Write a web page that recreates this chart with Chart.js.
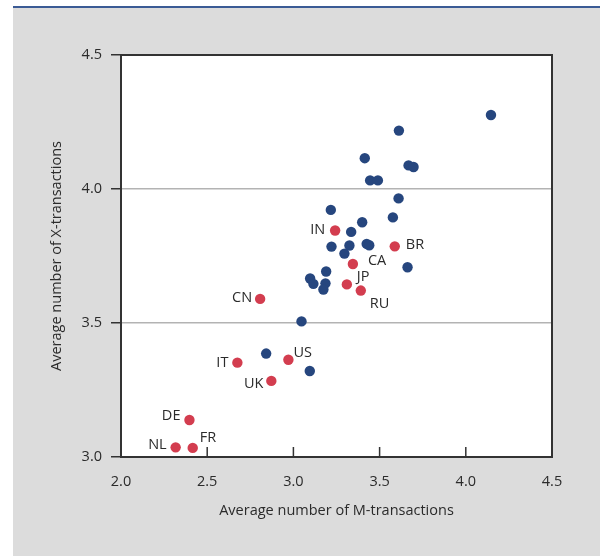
<!DOCTYPE html>
<html>
<head>
<meta charset="utf-8">
<script src="https://cdn.jsdelivr.net/npm/chart.js@4"></script>
<style>
  body { margin: 0; background: #fff; }
  #panel {
    position: absolute; left: 13px; top: 6px; width: 587px; height: 550px;
    background: #dcdcdc; border-top: 2px solid #3b5b95; box-sizing: border-box;
  }
  #wrap { position: absolute; left: 0; top: 0; width: 600px; height: 556px; }
</style>
</head>
<body>
<div id="panel"></div>
<div id="wrap"><canvas id="chart" width="600" height="556"></canvas></div>
<script>
// other countries (blue)
let blueX = [4.146, 3.612, 3.414, 3.668, 3.697, 3.445, 3.490, 3.610, 3.217, 3.577, 3.399, 3.335, 3.221,
  3.325, 3.425, 3.440, 3.296, 3.662, 3.190, 3.097, 3.116, 3.186, 3.174, 3.047, 2.842, 3.095];
let blueY = [4.276, 4.218, 4.115, 4.088, 4.082, 4.032, 4.032, 3.965, 3.922, 3.894, 3.876, 3.840, 3.785,
  3.789, 3.795, 3.790, 3.759, 3.708, 3.692, 3.666, 3.646, 3.648, 3.625, 3.506, 3.386, 3.321];

// labelled countries (red)
let redNames = ['IN', 'BR', 'CA', 'JP', 'RU', 'CN', 'US', 'IT', 'UK', 'DE', 'NL', 'FR'];
let redX = [3.242, 3.588, 3.345, 3.310, 3.391, 2.807, 2.971, 2.675, 2.872, 2.397, 2.317, 2.416];
let redY = [3.845, 3.786, 3.720, 3.644, 3.621, 3.590, 3.363, 3.352, 3.284, 3.138, 3.036, 3.034];

let xTicks = [2.0, 2.5, 3.0, 3.5, 4.0, 4.5];
let yTicks = [3.0, 3.5, 4.0, 4.5];

// where each label sits relative to its dot
let labelPos = {
  IN: [-10, -1, 'right'], BR: [11, -1, 'left'], CA: [15, -3, 'left'], JP: [10, -8, 'left'],
  RU: [9, 13, 'left'], CN: [-8, -1, 'right'], US: [5, -7, 'left'], IT: [-9, 0, 'right'],
  UK: [-8, 3, 'right'], DE: [-9, -4, 'right'], NL: [-9, -2, 'right'], FR: [7, -10, 'left']
};

let textColor = '#2b2b2b';
let fontFamily = "'Open Sans', 'Noto Sans', sans-serif";
let fontSize = 14.5;

function toPoints(xs, ys) {
  let pts = [];
  for (let i = 0; i < xs.length; i++) pts.push({ x: xs[i], y: ys[i] });
  return pts;
}

let framePlugin = {
  id: 'frame',
  beforeDraw(chart) {
    // white plot area on the grey panel
    let a = chart.chartArea;
    chart.ctx.save();
    chart.ctx.fillStyle = '#fff';
    chart.ctx.fillRect(a.left, a.top, a.right - a.left, a.bottom - a.top);
    chart.ctx.restore();
  },
  afterDraw(chart) {
    let ctx = chart.ctx;
    let a = chart.chartArea;
    let xs = chart.scales.x;
    ctx.save();
    ctx.strokeStyle = '#333';
    ctx.lineWidth = 2;
    ctx.strokeRect(a.left, a.top, a.right - a.left, a.bottom - a.top);
    // x ticks point up into the plot
    ctx.lineWidth = 1.5;
    xTicks.slice(1, -1).forEach(v => {
      let px = xs.getPixelForValue(v);
      ctx.beginPath();
      ctx.moveTo(px, a.bottom);
      ctx.lineTo(px, a.bottom - 10);
      ctx.stroke();
    });
    // country labels
    let meta = chart.getDatasetMeta(1);
    ctx.font = fontSize + 'px ' + fontFamily;
    ctx.fillStyle = textColor;
    ctx.textBaseline = 'middle';
    meta.data.forEach((pt, i) => {
      let p = labelPos[redNames[i]];
      ctx.textAlign = p[2];
      ctx.fillText(redNames[i], pt.x + p[0], pt.y + p[1]);
    });
    ctx.restore();
  }
};

new Chart('chart', {
  type: 'scatter',
  data: {
    datasets: [
      { data: toPoints(blueX, blueY), backgroundColor: '#26467e', borderWidth: 0, pointRadius: 5.2, pointHoverRadius: 5.2 },
      { data: toPoints(redX, redY), backgroundColor: '#d33d4f', borderWidth: 0, pointRadius: 5.2, pointHoverRadius: 5.2 }
    ]
  },
  options: {
    responsive: false,
    animation: false,
    events: [],
    layout: { padding: { top: 55, right: 48, left: 0, bottom: 0 } },
    plugins: { legend: { display: false }, tooltip: { enabled: false } },
    scales: {
      x: {
        type: 'linear', min: 2, max: 4.5,
        afterBuildTicks: s => { s.ticks = xTicks.map(v => ({ value: v })); },
        afterFit: s => { s.height = 99; },
        grid: { drawOnChartArea: false, drawTicks: false },
        border: { color: '#333', width: 2 },
        ticks: { padding: 16, color: textColor, font: { family: fontFamily, size: fontSize }, callback: v => v.toFixed(1) },
        title: { display: true, text: 'Average number of M-transactions', color: textColor,
          font: { family: fontFamily, size: fontSize }, padding: { top: 0, bottom: 36 } }
      },
      y: {
        type: 'linear', min: 3, max: 4.5,
        afterBuildTicks: s => { s.ticks = yTicks.map(v => ({ value: v })); },
        afterFit: s => { s.width = 121; },
        grid: { color: '#b3b3b3', lineWidth: 1.5, tickColor: '#333', tickLength: 10 },
        border: { color: '#333', width: 2 },
        ticks: { padding: 9, color: textColor, font: { family: fontFamily, size: fontSize }, callback: v => v.toFixed(1) },
        title: { display: true, text: 'Average number of X-transactions', color: textColor,
          font: { family: fontFamily, size: fontSize }, padding: { top: 48, bottom: 0 } }
      }
    }
  },
  plugins: [framePlugin]
});
</script>
</body>
</html>
